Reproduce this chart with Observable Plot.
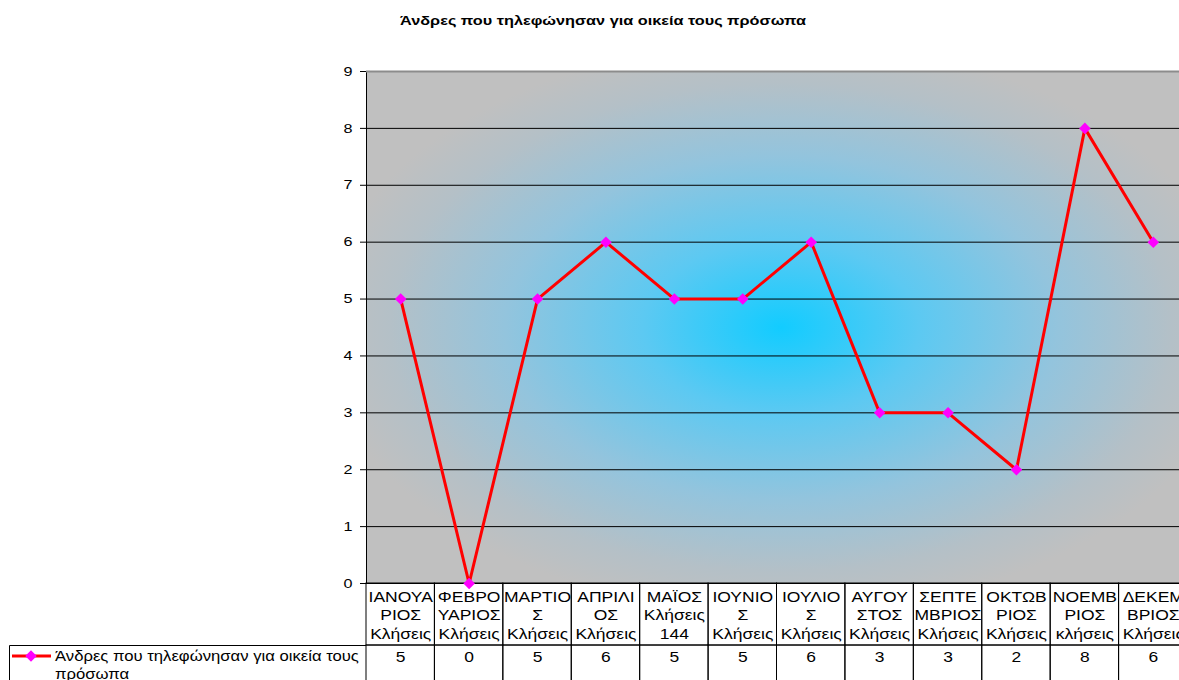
<!DOCTYPE html>
<html><head><meta charset="utf-8">
<script src="https://cdn.jsdelivr.net/npm/d3@7"></script>
<script src="https://cdn.jsdelivr.net/npm/@observablehq/plot@0.6"></script>
<style>
body{margin:0;background:#fff;overflow:hidden}
svg{display:block}
</style>
</head><body><div id="chart"></div>
<script>
const chartTitle = "Άνδρες που τηλεφώνησαν για οικεία τους πρόσωπα";
const seriesName = ["Άνδρες που τηλεφώνησαν για οικεία τους", "πρόσωπα"];
const months = [
  "ΙΑΝΟΥΑ\nΡΙΟΣ\nΚλήσεις",
  "ΦΕΒΡΟ\nΥΑΡΙΟΣ\nΚλήσεις",
  "ΜΑΡΤΙΟ\nΣ\nΚλήσεις",
  "ΑΠΡΙΛΙ\nΟΣ\nΚλήσεις",
  "ΜΑΪΟΣ\nΚλήσεις\n144",
  "ΙΟΥΝΙΟ\nΣ\nΚλήσεις",
  "ΙΟΥΛΙΟ\nΣ\nΚλήσεις",
  "ΑΥΓΟΥ\nΣΤΟΣ\nΚλήσεις",
  "ΣΕΠΤΕ\nΜΒΡΙΟΣ\nΚλήσεις",
  "ΟΚΤΩΒ\nΡΙΟΣ\nΚλήσεις",
  "ΝΟΕΜΒ\nΡΙΟΣ\nκλήσεις",
  "ΔΕΚΕΜ\nΒΡΙΟΣ\nΚλήσεις"
];
const values = [5, 0, 5, 6, 5, 5, 6, 3, 3, 2, 8, 6];
const yTicks = [0, 1, 2, 3, 4, 5, 6, 7, 8, 9];
const gridValues = [1, 2, 3, 4, 5, 6, 7, 8];

const data = months.map((m, i) => ({month: m, value: values[i]}));
const FONT = "Arial, 'Liberation Sans', sans-serif";

const plot = Plot.plot({
  width: 1179,
  height: 680,
  marginLeft: 366,
  marginRight: -8,
  marginTop: 71,
  marginBottom: 97,
  style: {fontFamily: FONT, background: "white", color: "black"},
  x: {type: "band", domain: months, padding: 0, round: false, axis: null},
  y: {domain: [0, 9], axis: null},
  marks: [
    Plot.frame({fill: "url(#plotBg)", stroke: "none"}),
    Plot.ruleY(gridValues, {stroke: "black", strokeWidth: 1}),
    Plot.frame({stroke: "black", fill: "none"}),
    Plot.ruleY([9], {stroke: "#8c8c8c", strokeWidth: 2}),
    Plot.barY(data, {x: "month", y1: 0, y2: -1.09, fill: "none", stroke: "black", strokeWidth: 1}),
    Plot.barY(data, {x: "month", y1: -1.09, y2: -1.9, fill: "none", stroke: "black", strokeWidth: 1}),
    Plot.text(data, {x: "month", y: 0, dy: 31, text: "month", fontSize: 14, lineHeight: 1.33, fill: "black"}),
    Plot.text(data, {x: "month", y: 0, dy: 74, text: "value", fontSize: 14, fill: "black"}),
    Plot.line(data, {x: "month", y: "value", stroke: "#ff0000", strokeWidth: 3}),
    Plot.dot(data, {x: "month", y: "value", symbol: "diamond2", r: 5.2, fill: "#ff00ff", stroke: "none"}),
    Plot.axisY(yTicks, {tickSize: 6, tickPadding: 8, fontSize: 13, label: null, stroke: "black", fill: "black", tickFormat: d => String(d)})
  ]
});

document.getElementById("chart").appendChild(plot);
const svg = d3.select(plot);

// background gradient
const defs = svg.insert("defs", ":first-child");
const grad = defs.append("radialGradient").attr("id", "plotBg")
  .attr("cx", 0.505).attr("cy", 0.5).attr("r", 0.56);
[[0, "#12ccff"], [0.3, "#5cc9f2"], [0.6, "#93c4dd"], [0.85, "#b4c0c7"], [1, "#c0c0c0"]]
  .forEach(([o, c]) => grad.append("stop").attr("offset", o).attr("stop-color", c));

// title
svg.append("text")
  .attr("class", "title")
  .attr("x", 603).attr("y", 25)
  .attr("text-anchor", "middle")
  .attr("font-family", FONT).attr("font-weight", "bold").attr("font-size", 13)
  .attr("fill", "black")
  .text(chartTitle);

// legend cell of the data table
const leg = svg.append("g");
leg.append("path").attr("d", "M9.5,680V645.5H366").attr("fill", "none").attr("stroke", "black");
leg.append("line").attr("x1", 12).attr("x2", 51).attr("y1", 656).attr("y2", 656)
  .attr("stroke", "#ff0000").attr("stroke-width", 3);
leg.append("path").attr("d", d3.symbol(d3.symbolDiamond2, Math.PI * 5.2 * 5.2)()).attr("transform", "translate(31,656)")
  .attr("fill", "#ff00ff");
const lt = leg.append("text").attr("class", "legend").attr("font-family", FONT).attr("font-size", 14)
  .attr("fill", "black").attr("text-anchor", "start");
seriesName.forEach((s, i) => lt.append("tspan").attr("x", 55).attr("y", 661 + i * 18).text(s));

// Horizontal stretch of text to match the reference rendering
plot.querySelectorAll("text").forEach(t => {
  const stretch = t.classList.contains("legend") ? 1.19 : 1.25;
  const spans = t.querySelectorAll("tspan");
  const targets = spans.length ? Array.from(spans) : [t];
  targets.forEach(el => {
    const len = el.getComputedTextLength();
    if (len > 0) {
      el.setAttribute("textLength", (len * stretch).toFixed(1));
      el.setAttribute("lengthAdjust", "spacingAndGlyphs");
    }
  });
});
</script>
</body></html>
